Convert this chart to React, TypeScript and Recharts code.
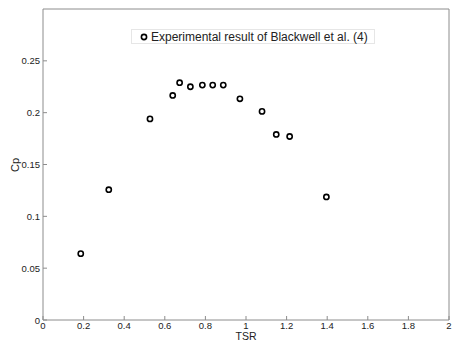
import { ScatterChart, Scatter, XAxis, YAxis } from 'recharts';

const tsr = [0.186, 0.324, 0.527, 0.639, 0.673, 0.726, 0.785, 0.836, 0.888, 0.97, 1.079, 1.149, 1.215, 1.396];
const cp = [0.064, 0.1257, 0.194, 0.2166, 0.2289, 0.225, 0.2266, 0.2266, 0.2266, 0.2134, 0.2012, 0.179, 0.177, 0.1187];
const xTicks = [0, 0.2, 0.4, 0.6, 0.8, 1, 1.2, 1.4, 1.6, 1.8, 2];
const yTicks = [0, 0.05, 0.1, 0.15, 0.2, 0.25, 0.3];
const seriesName = 'Experimental result of Blackwell et al. (4)';

const data = tsr.map((x, i) => ({ x, y: cp[i] }));

const AXIS = '#8c8c8c';
const FONT = '"Liberation Sans", Arial, sans-serif';

const BottomTick = (props: any) => {
  const { x, y, payload } = props;
  return (
    <g>
      <line x1={x} y1={y} x2={x} y2={y - 4} stroke={AXIS} />
      <text x={x} y={y + 9} textAnchor="middle" fontSize={9.5} fill="#222" fontFamily={FONT}>{payload.value}</text>
    </g>
  );
};

const TopTick = (props: any) => {
  const { x, y } = props;
  return <line x1={x} y1={y} x2={x} y2={y + 4} stroke={AXIS} />;
};

const LeftTick = (props: any) => {
  const { x, y, payload } = props;
  if (payload.value === 0.3) return <g />;
  return (
    <g>
      <line x1={x} y1={y} x2={x + 4} y2={y} stroke={AXIS} />
      <text x={x - 3} y={y + 3.5} textAnchor="end" fontSize={9.5} fill="#222" fontFamily={FONT}>{payload.value}</text>
    </g>
  );
};

const RightTick = (props: any) => {
  const { x, y } = props;
  return <line x1={x} y1={y} x2={x - 4} y2={y} stroke={AXIS} />;
};

const Ring = (props: any) => {
  const { cx, cy } = props;
  return <circle cx={cx} cy={cy} r={2.6} fill="#fff" stroke="#000" strokeWidth={1.6} />;
};

export default function App() {
  return (
    <div style={{ position: 'absolute', left: 0, top: 0, width: 455, height: 341, background: '#fff', overflow: 'hidden' }}>
      <ScatterChart width={455} height={341} margin={{ top: 8, right: 5, left: 42, bottom: 20 }}>
        <XAxis type="number" dataKey="x" domain={[0, 2]} ticks={xTicks} tickSize={0} tickMargin={0}
          axisLine={{ stroke: AXIS }} tickLine={false} tick={<BottomTick />} height={1} interval={0} />
        <XAxis xAxisId="top" orientation="top" type="number" dataKey="x" domain={[0, 2]} ticks={xTicks} tickSize={0}
          tickMargin={0} axisLine={{ stroke: AXIS }} tickLine={false} tick={<TopTick />} height={1} interval={0} />
        <YAxis type="number" dataKey="y" domain={[0, 0.3]} ticks={yTicks} tickSize={0} tickMargin={0}
          axisLine={{ stroke: AXIS }} tickLine={false} tick={<LeftTick />} width={1} interval={0} />
        <YAxis yAxisId="right" orientation="right" type="number" dataKey="y" domain={[0, 0.3]} ticks={yTicks} tickSize={0}
          tickMargin={0} axisLine={{ stroke: AXIS }} tickLine={false} tick={<RightTick />} width={1} interval={0} />
        <Scatter name={seriesName} data={data} shape={<Ring />} isAnimationActive={false} />
      </ScatterChart>
      <div style={{ position: 'absolute', left: 131, top: 29, height: 13, border: '1px solid #e6e6e6', background: '#fff', padding: '0 6px 0 8px', display: 'flex', alignItems: 'center', fontFamily: FONT, fontSize: 12, color: '#222', whiteSpace: 'nowrap' }}>
        <svg width={8} height={10} style={{ marginRight: 3 }}>
          <circle cx={4} cy={5} r={2.6} fill="#fff" stroke="#000" strokeWidth={1.6} />
        </svg>
        {seriesName}
      </div>
      <div style={{ position: 'absolute', left: 246, top: 332, lineHeight: '9px', transform: 'translateX(-50%)', fontFamily: FONT, fontSize: 10.5, color: '#222' }}>TSR</div>
      <div style={{ position: 'absolute', left: 15, top: 165, lineHeight: '12px', transform: 'translate(-50%, -50%) rotate(-90deg)', fontFamily: FONT, fontSize: 11, color: '#222' }}>Cp</div>
    </div>
  );
}
